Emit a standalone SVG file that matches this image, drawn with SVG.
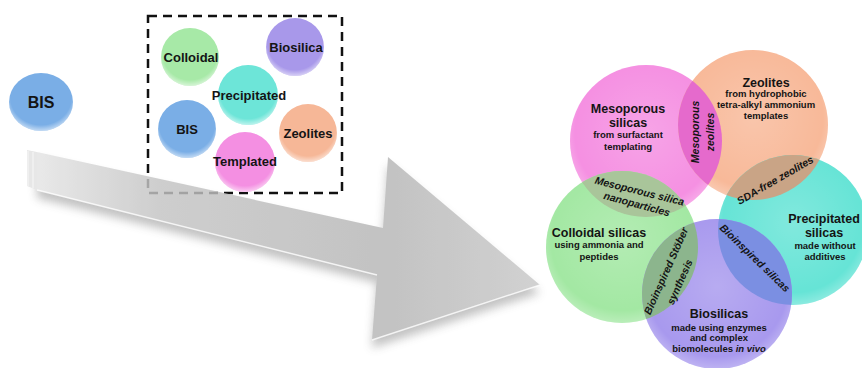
<svg xmlns="http://www.w3.org/2000/svg" width="862" height="368" viewBox="0 0 862 368">
<style>
.t{font-family:"Liberation Sans",Arial,sans-serif;font-weight:bold;fill:#141414;text-anchor:middle}
.sm{font-size:13px}
.big{font-size:12.5px}
.sub{font-size:9.5px}
.it{font-size:10.5px;font-style:italic}
.rim{fill:url(#rim)}
</style>
<defs>
<radialGradient id="rim" cx="50%" cy="42%" r="58%">
<stop offset="0.82" stop-color="#fff" stop-opacity="0"/>
<stop offset="1" stop-color="#fff" stop-opacity="0.55"/>
</radialGradient>
<radialGradient id="soft" cx="50%" cy="45%" r="55%">
<stop offset="0" stop-color="#fff" stop-opacity="0.18"/>
<stop offset="0.85" stop-color="#fff" stop-opacity="0"/>
<stop offset="1" stop-color="#fff" stop-opacity="0.25"/>
</radialGradient>
<linearGradient id="arrowG" gradientUnits="userSpaceOnUse" x1="30" y1="0" x2="540" y2="0">
<stop offset="0" stop-color="#e6e6e6"/>
<stop offset="0.25" stop-color="#c4c4c4"/>
<stop offset="0.7" stop-color="#b6b6b6"/>
<stop offset="1" stop-color="#c8c8c8"/>
</linearGradient>
<filter id="sh" x="-10%" y="-20%" width="120%" height="150%">
<feDropShadow dx="0" dy="8" stdDeviation="5" flood-color="#777" flood-opacity="0.55"/>
</filter>
<clipPath id="cPink"><circle cx="646" cy="141" r="76"/></clipPath>
<clipPath id="cOrange"><circle cx="753" cy="125" r="75"/></clipPath>
<clipPath id="cGreen"><circle cx="622" cy="247" r="76"/></clipPath>
<clipPath id="cCyan"><circle cx="793" cy="230" r="75"/></clipPath>
</defs>

<g id="bis-main">
<ellipse cx="41" cy="102" rx="32" ry="29" fill="#7aaee6"/>
<ellipse cx="41" cy="102" rx="32" ry="29" class="rim"/>
<text class="t" x="41" y="108" font-size="16px">BIS</text>
</g>

<g id="box">
<rect x="148" y="16" width="194" height="177" fill="none" stroke="#111" stroke-width="2.5" stroke-dasharray="9 6"/>
</g>

<g id="colloidal-small">
<circle cx="190" cy="57" r="29" fill="#a7e9a7"/><circle cx="190" cy="57" r="29" class="rim"/>
<text class="t sm" x="191" y="62">Colloidal</text>
</g>
<g id="biosilica-small">
<circle cx="295" cy="47" r="29" fill="#a898ea"/><circle cx="295" cy="47" r="29" class="rim"/>
<text class="t sm" x="296" y="52">Biosilica</text>
</g>
<g id="precipitated-small">
<circle cx="248" cy="95" r="30" fill="#6de5d8"/><circle cx="248" cy="95" r="30" class="rim"/>
<text class="t sm" x="249" y="100">Precipitated</text>
</g>
<g id="bis-small">
<circle cx="187" cy="129" r="29" fill="#7aaee6"/><circle cx="187" cy="129" r="29" class="rim"/>
<text class="t sm" x="187" y="134">BIS</text>
</g>
<g id="zeolites-small">
<circle cx="308" cy="133" r="29" fill="#f6b797"/><circle cx="308" cy="133" r="29" class="rim"/>
<text class="t sm" x="308" y="138">Zeolites</text>
</g>
<g id="templated-small">
<circle cx="245" cy="162" r="30" fill="#f48fe2"/><circle cx="245" cy="162" r="30" class="rim"/>
<text class="t sm" x="245" y="166">Templated</text>
</g>

<g id="connectors">
<g id="big-arrow" opacity="0.82">
<polygon points="37,152 383,228 388,157 540,285 372,340 377,275 37,190" fill="url(#arrowG)" filter="url(#sh)"/>
<polyline points="37,190 377,275" fill="none" stroke="#fff" stroke-width="1.5" stroke-opacity="0.8"/>
<polyline points="372,340 540,285" fill="none" stroke="#fff" stroke-width="1.5" stroke-opacity="0.8"/>
<polygon points="27,150 37,152 37,190 27,186" fill="#e2e2e2"/>
<line x1="28" y1="151" x2="28" y2="186" stroke="#f4f4f4" stroke-width="1.2"/>
<line x1="33" y1="152" x2="33" y2="188" stroke="#f4f4f4" stroke-width="1.2"/>
</g>
</g>

<g id="mesoporous">
<circle cx="646" cy="141" r="76" fill="#f590e2"/><circle cx="646" cy="141" r="76" fill="url(#soft)"/>
</g>
<g id="zeolites">
<circle cx="753" cy="125" r="75" fill="#f8b999"/><circle cx="753" cy="125" r="75" fill="url(#soft)"/>
</g>
<g id="precipitated">
<circle cx="793" cy="230" r="75" fill="#66e4d6"/><circle cx="793" cy="230" r="75" fill="url(#soft)"/>
</g>
<g id="colloidal">
<circle cx="622" cy="247" r="76" fill="#a3e8a3"/><circle cx="622" cy="247" r="76" fill="url(#soft)"/>
</g>
<g id="biosilicas">
<circle cx="717" cy="294" r="75" fill="#a899ee"/><circle cx="717" cy="294" r="75" fill="url(#soft)"/>
</g>

<g id="overlaps">
<circle cx="753" cy="125" r="75" fill="#e56acc" clip-path="url(#cPink)"/>
<circle cx="622" cy="247" r="76" fill="#a9c59a" clip-path="url(#cPink)"/>
<circle cx="793" cy="230" r="75" fill="#c9a486" clip-path="url(#cOrange)"/>
<circle cx="717" cy="294" r="75" fill="#8cb58d" clip-path="url(#cGreen)"/>
<circle cx="717" cy="294" r="75" fill="#7b8fe2" clip-path="url(#cCyan)"/>
</g>

<g id="labels">
<text class="t big" x="628" y="112.5">Mesoporous</text>
<text class="t big" x="628" y="126.5">silicas</text>
<text class="t sub" x="628" y="137.5">from surfactant</text>
<text class="t sub" x="628" y="149.5">templating</text>

<text class="t big" x="766" y="86.5">Zeolites</text>
<text class="t sub" x="766" y="97">from hydrophobic</text>
<text class="t sub" x="766" y="108">tetra-alkyl ammonium</text>
<text class="t sub" x="766" y="118.5">templates</text>

<text class="t big" x="599" y="236.5">Colloidal silicas</text>
<text class="t sub" x="599" y="247.5">using ammonia and</text>
<text class="t sub" x="599" y="259.5">peptides</text>

<text class="t big" x="824" y="222.5">Precipitated</text>
<text class="t big" x="824" y="236.5">silicas</text>
<text class="t sub" x="825" y="248.5">made without</text>
<text class="t sub" x="825" y="259.5">additives</text>

<text class="t big" x="719" y="317.5">Biosilicas</text>
<text class="t sub" x="719" y="330.5">made using enzymes</text>
<text class="t sub" x="719" y="340.5">and complex</text>
<text class="t sub" x="719" y="351.5">biomolecules <tspan font-style="italic">in vivo</tspan></text>

<text class="t it" transform="translate(698.7,132) rotate(-90)">Mesoporous</text>
<text class="t it" transform="translate(714,132) rotate(-90)">zeolites</text>
<text class="t it" font-size="11px" transform="translate(777,183.3) rotate(-30)">SDA-free zeolites</text>
<text class="t it" transform="translate(638.6,194.6) rotate(14)">Mesoporous silica</text>
<text class="t it" transform="translate(636,207.6) rotate(15)">nanoparticles</text>
<text class="t it" transform="translate(669.4,272.5) rotate(-66)">Bioinspired Stöber</text>
<text class="t it" transform="translate(683,283.5) rotate(-66)">synthesis</text>
<text class="t it" transform="translate(752.4,260.7) rotate(44)">Bioinspired silicas</text>
</g>
</svg>
